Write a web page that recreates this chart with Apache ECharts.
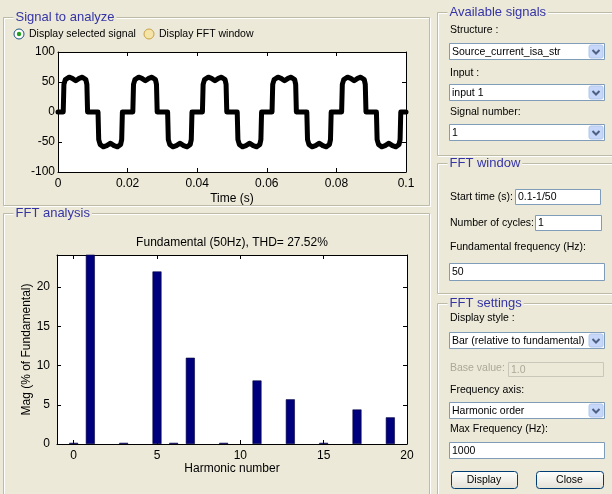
<!DOCTYPE html>
<html><head><meta charset="utf-8">
<script src="https://cdn.jsdelivr.net/npm/echarts@6/dist/echarts.min.js"></script>
<style>html,body{margin:0;padding:0;background:#ECE9D8;} #c{width:612px;height:494px;}</style>
</head><body><div id="c"></div>
<script>
// ---- data ----
const signalTime = [0,
 0.0015,0.0017,0.0021,0.0032,0.0041,0.0051,0.0061,0.0070,0.0080,0.0083,0.0085,0.0115,0.0117,0.0121,0.0130,0.0140,0.0151,0.0161,0.0171,0.0180,0.0183,0.0185,
 0.0215,0.0217,0.0221,0.0232,0.0241,0.0251,0.0261,0.0270,0.0280,0.0283,0.0285,0.0315,0.0317,0.0321,0.0330,0.0340,0.0351,0.0361,0.0371,0.0380,0.0383,0.0385,
 0.0415,0.0417,0.0421,0.0432,0.0441,0.0451,0.0461,0.0470,0.0480,0.0483,0.0485,0.0515,0.0517,0.0521,0.0530,0.0540,0.0551,0.0561,0.0571,0.0580,0.0583,0.0585,
 0.0615,0.0617,0.0621,0.0632,0.0641,0.0651,0.0661,0.0670,0.0680,0.0683,0.0685,0.0715,0.0717,0.0721,0.0730,0.0740,0.0751,0.0761,0.0771,0.0780,0.0783,0.0785,
 0.0815,0.0817,0.0821,0.0832,0.0841,0.0851,0.0861,0.0870,0.0880,0.0883,0.0885,0.0915,0.0917,0.0921,0.0930,0.0940,0.0951,0.0961,0.0971,0.0980,0.0983,0.0985,
 0.1];
const signalValue = [0,
 0,46,54,58,56,52,56,58,54,46,0,0,-46,-54,-58,-56,-52,-56,-58,-54,-46,0,
 0,46,54,58,56,52,56,58,54,46,0,0,-46,-54,-58,-56,-52,-56,-58,-54,-46,0,
 0,46,54,58,56,52,56,58,54,46,0,0,-46,-54,-58,-56,-52,-56,-58,-54,-46,0,
 0,46,54,58,56,52,56,58,54,46,0,0,-46,-54,-58,-56,-52,-56,-58,-54,-46,0,
 0,46,54,58,56,52,56,58,54,46,0,0,-46,-54,-58,-56,-52,-56,-58,-54,-46,0,
 0];
const harmonicOrder = [0,1,3,5,6,7,9,11,13,15,17,19];
const harmonicMag   = [0.15,100,0.15,22,0.15,11,0.15,8.1,5.7,0.15,4.4,3.4];
const timeTicks = [0,0.02,0.04,0.06,0.08,0.1];
const signalTicks = [-100,-50,0,50,100];
const harmonicTicks = [0,5,10,15,20];
const magTicks = [0,5,10,15,20];
const fftTitle = 'Fundamental (50Hz), THD= 27.52%';

// ---- chart ----
const FONT = '"Liberation Sans", Arial, sans-serif';
const GUIF = '10.5px ' + FONT;
const BG = '#ECE9D8';
const chart = echarts.init(document.getElementById('c'), null, {renderer:'canvas'});

function xAx(grid, pos, min, max, ticks, showLabel, name, gap, fmt){
  return {type:'value', gridIndex:grid, position:pos, min:min, max:max,
    axisLine:{show:true, onZero:false, lineStyle:{color:'#000', width:1}},
    axisTick:{show:true, inside:true, length:4, customValues:ticks, lineStyle:{color:'#000'}},
    axisLabel:{show:showLabel, customValues:ticks, color:'#000', fontSize:12, fontFamily:FONT, margin:6, formatter:fmt},
    splitLine:{show:false},
    name:name||'', nameLocation:'middle', nameGap:gap||0, nameMoveOverlap:false,
    nameTextStyle:{color:'#000', fontSize:12, fontFamily:FONT}};
}
function yAx(grid, pos, min, max, ticks, showLabel, name, gap, margin){
  return {type:'value', gridIndex:grid, position:pos, min:min, max:max,
    axisLine:{show:true, onZero:false, lineStyle:{color:'#000', width:1}},
    axisTick:{show:true, inside:true, length:4, customValues:ticks, lineStyle:{color:'#000'}},
    axisLabel:{show:showLabel, customValues:ticks, color:'#000', fontSize:12, fontFamily:FONT, margin:margin||4},
    splitLine:{show:false},
    name:name||'', nameLocation:'middle', nameGap:gap||0, nameRotate:90, nameMoveOverlap:false,
    nameTextStyle:{color:'#000', fontSize:12, fontFamily:FONT}};
}
const tfmt = v => String(Math.round(v*100)/100);

// ---- GUI graphics ----
const G = [];
function frame(x,y,w,h,title){
  G.push({type:'rect', z:1, shape:{x:x+1,y:y+1,width:w,height:h}, style:{fill:null, stroke:'#FFFFFF', lineWidth:1}});
  G.push({type:'rect', z:2, shape:{x:x,y:y,width:w,height:h}, style:{fill:null, stroke:'#BDBAA7', lineWidth:1}});
  G.push({type:'text', z:5, x:x+10, y:y, style:{text:title, fill:'#3434A6', font:'13px '+FONT, backgroundColor:BG, padding:[0,2,0,2], verticalAlign:'middle'}});
}
function label(x,y,t,color){
  G.push({type:'text', z:5, x:x, y:y, style:{text:t, fill:color||'#000', font:GUIF, verticalAlign:'middle'}});
}
function textbox(x,y,w,h,t,disabled){
  G.push({type:'rect', z:3, shape:{x:x+0.5,y:y+0.5,width:w,height:h}, style:{fill:disabled?BG:'#FFFFFF', stroke:disabled?'#C9C7BA':'#7F9DB9', lineWidth:1}});
  G.push({type:'text', z:5, x:x+3, y:y+h/2+1, style:{text:t, fill:disabled?'#ACA899':'#000', font:GUIF, verticalAlign:'middle'}});
}
function dropdown(x,y,w,h,t){
  textbox(x,y,w,h,t,false);
  G.push({type:'rect', z:4, shape:{x:x+w-15,y:y+2,width:14,height:h-3,r:2}, style:{fill:'#C6D7FA', stroke:'#B2C6EE', lineWidth:1}});
  const cx = x+w-8, cy = y+h/2+1;
  G.push({type:'polyline', z:5, shape:{points:[[cx-3.5,cy-2],[cx,cy+1.5],[cx+3.5,cy-2]]}, style:{stroke:'#4D6185', lineWidth:2, fill:null}});
}
function button(x,y,w,h,t){
  G.push({type:'rect', z:3, shape:{x:x+0.5,y:y+0.5,width:w,height:h,r:3},
    style:{fill:new echarts.graphic.LinearGradient(0,0,0,1,[{offset:0,color:'#FFFFFF'},{offset:1,color:'#E3E1D5'}]), stroke:'#003C74', lineWidth:1}});
  G.push({type:'text', z:5, x:x+w/2, y:y+h/2+1, style:{text:t, fill:'#000', font:GUIF, align:'center', verticalAlign:'middle'}});
}
function radio(x,y,selected,t){
  G.push({type:'circle', z:4, shape:{cx:x,cy:y,r:5}, style:{fill:selected?'#FFFFFF':'#F4E4A8', stroke:selected?'#1C5180':'#C9A24A', lineWidth:1}});
  if(selected) G.push({type:'circle', z:5, shape:{cx:x,cy:y,r:2.2}, style:{fill:'#21A121'}});
  G.push({type:'text', z:5, x:x+10, y:y+0.5, style:{text:t, fill:'#000', font:GUIF, verticalAlign:'middle'}});
}

frame(3.5,17.5,426,188,'Signal to analyze');
frame(3.5,213.5,426,300,'FFT analysis');
frame(437.5,12.5,200,143,'Available signals');
frame(437.5,163.5,200,130,'FFT window');
frame(437.5,303.5,200,220,'FFT settings');

radio(19,34,true,'Display selected signal');
radio(149,34,false,'Display FFT window');

label(450,30,'Structure :');
dropdown(449,43,155,16,'Source_current_isa_str');
label(450,73,'Input :');
dropdown(449,84,155,16,'input 1');
label(450,112,'Signal number:');
dropdown(449,124,155,16,'1');

label(450,197,'Start time (s):');
textbox(515,189,85,15,'0.1-1/50');
label(450,223,'Number of cycles:');
textbox(535,215,66,15,'1');
label(450,247,'Fundamental frequency (Hz):');
textbox(449,263,155,17,'50');

label(450,318,'Display style :');
dropdown(449,332,155,16,'Bar (relative to fundamental)');
label(450,368,'Base value:','#ACA899');
textbox(508,362,95,14,'1.0',true);
label(450,390,'Frequency axis:');
dropdown(449,402,155,16,'Harmonic order');
label(450,429,'Max Frequency (Hz):');
textbox(449,442,155,16,'1000');
button(451,471,66,17,'Display');
button(536,471,67,17,'Close');

G.push({type:'text', z:5, x:232, y:243, style:{text:fftTitle, fill:'#000', font:'12px '+FONT, align:'center', verticalAlign:'middle'}});

const option = {
  backgroundColor: BG,
  animation: false,
  grid: [
    {left:58, top:52, width:348, height:120, show:true, backgroundColor:'#FFFFFF', borderWidth:0},
    {left:57, top:255, width:350, height:189, show:true, backgroundColor:'#FFFFFF', borderWidth:0}
  ],
  xAxis: [
    xAx(0,'bottom',0,0.1,timeTicks,true,'Time (s)',21,tfmt),
    xAx(0,'top',0,0.1,timeTicks,false),
    xAx(1,'bottom',-1,20,harmonicTicks,true,'Harmonic number',19),
    xAx(1,'top',-1,20,harmonicTicks,false)
  ],
  yAxis: [
    yAx(0,'left',-100,100,signalTicks,true,'',0,3),
    yAx(0,'right',-100,100,signalTicks,false),
    yAx(1,'left',0,24.1,magTicks,true,'Mag (% of Fundamental)',24,7),
    yAx(1,'right',0,24.1,magTicks,false)
  ],
  series: [
    {type:'line', xAxisIndex:0, yAxisIndex:0, data: signalTime.map((t,i)=>[t, signalValue[i]]),
     showSymbol:false, symbol:'none', clip:true,
     lineStyle:{color:'#000', width:5, join:'round', cap:'round'}},
    {type:'bar', xAxisIndex:2, yAxisIndex:2, data: harmonicOrder.map((h,i)=>[h, harmonicMag[i]]),
     barWidth:9, clip:true,
     itemStyle:{color:'#00007C', borderColor:'#000040', borderWidth:0.6}}
  ],
  graphic: {elements: G}
};
chart.setOption(option);
</script>
</body></html>
